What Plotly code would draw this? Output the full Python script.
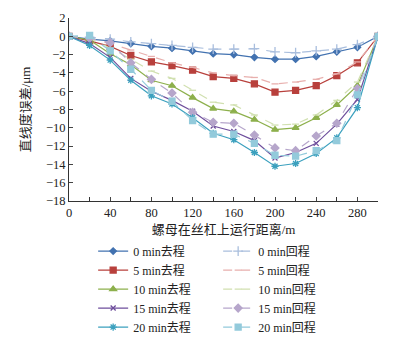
import plotly.graph_objects as go

x = [0, 20, 40, 60, 80, 100, 120, 140, 160, 180, 200, 220, 240, 260, 280, 300]

f0 = [0, -0.3, -0.5, -0.8, -1.1, -1.3, -1.6, -1.9, -2.0, -2.3, -2.5, -2.5, -2.2, -1.7, -1.2, 0]
b0 = [0, -0.1, -0.3, -0.6, -0.8, -1.0, -1.2, -1.4, -1.4, -1.35, -1.7, -1.8, -1.6, -1.4, -0.9, 0]
f5 = [0, -0.5, -1.1, -2.1, -2.8, -3.2, -3.7, -4.4, -4.6, -5.2, -6.1, -5.9, -5.4, -4.3, -2.9, 0]
b5 = [0, -0.2, -0.8, -1.5, -2.2, -2.9, -3.4, -4.0, -4.3, -4.5, -5.2, -5.0, -4.7, -4.1, -2.8, 0]
f10 = [0, -0.4, -1.9, -3.1, -4.8, -5.4, -6.7, -7.9, -8.2, -9.1, -10.2, -10.0, -8.9, -7.5, -5.4, 0]
b10 = [0, -0.2, -1.3, -2.5, -3.8, -4.6, -5.9, -7.2, -7.5, -8.6, -9.7, -9.6, -8.6, -7.0, -5.0, 0]
f15 = [0, -0.8, -2.3, -4.6, -6.0, -7.0, -8.2, -9.8, -10.4, -11.4, -13.3, -12.7, -11.7, -9.6, -6.9, 0]
b15 = [0, -0.2, -0.7, -2.9, -4.7, -6.2, -8.3, -9.4, -9.5, -10.8, -12.2, -12.5, -10.9, -9.5, -5.7, 0]
f20 = [0, -1.0, -2.6, -4.8, -6.5, -7.4, -8.9, -10.6, -11.3, -12.7, -14.2, -13.9, -12.8, -11.1, -7.8, 0]
b20 = [0, 0.1, -1.6, -3.6, -5.9, -7.1, -9.2, -10.7, -10.7, -11.7, -13.0, -13.1, -12.5, -11.4, -6.4, 0]

names = ["0 min去程", "0 min回程", "5 min去程", "5 min回程", "10 min去程", "10 min回程",
         "15 min去程", "15 min回程", "20 min去程", "20 min回程"]
series = [f0, b0, f5, b5, f10, b10, f15, b15, f20, b20]
colors = ["#4272B0", "#A9BEDD", "#B8403C", "#E8AFAD", "#8DB04C", "#D1E0B0",
          "#6E4E9C", "#B6A6CB", "#3BA0BE", "#93CADB"]
symbols = ["diamond", "cross-thin", "square", "line-ew", "triangle-up", "line-ew",
           "x-thin", "diamond", "asterisk", "square"]
sizes = [5, 7, 6, 5, 6, 5, 5, 6, 6, 6]
dashes = ["solid", "dash"] * 5

fig = go.Figure()
for n, s, c, sym, sz, d in zip(names, series, colors, symbols, sizes, dashes):
    fig.add_trace(go.Scatter(
        x=x, y=s, name=n, mode="lines+markers",
        line=dict(color=c, width=1.2, dash=d),
        marker=dict(symbol=sym, size=sz, color=c, line=dict(color=c, width=1.3)),
    ))

font_family = "'Liberation Serif', 'Times New Roman', 'Noto Sans CJK SC', serif"
fig.update_layout(
    width=405, height=337,
    margin=dict(l=69, r=27, t=18, b=136, autoexpand=False),
    paper_bgcolor="white", plot_bgcolor="white",
    font=dict(family=font_family, size=12, color="#222"),
    showlegend=True,
    legend=dict(
        orientation="h", xref="container", x=0.23, xanchor="left",
        yref="container", y=0.298, yanchor="top",
        entrywidth=80, entrywidthmode="pixels",
        font=dict(size=12), itemwidth=30,
        bgcolor="rgba(0,0,0,0)",
    ),
    xaxis=dict(
        range=[0, 300], tick0=0, dtick=40, ticks="inside", ticklen=4,
        minor=dict(dtick=20, ticks="inside", ticklen=4, tickcolor="#333"),
        showline=True, linecolor="#333", linewidth=1, showgrid=False, zeroline=False,
        tickfont=dict(size=12.5), automargin=False,
        title=dict(text="螺母在丝杠上运行距离/m", font=dict(size=13), standoff=27),
    ),
    yaxis=dict(
        range=[-18, 2], dtick=2, ticks="inside", ticklen=4,
        showline=True, linecolor="#333", linewidth=1, showgrid=False, zeroline=False,
        tickfont=dict(size=12.5), automargin=False,
        title=dict(text="直线度误差/μm", font=dict(size=13), standoff=12),
    ),
)

fig.write_html("out.html")
